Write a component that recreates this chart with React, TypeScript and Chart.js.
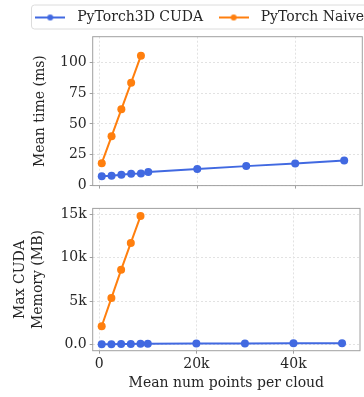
import React, { useEffect, useRef } from "react";
import { Chart, registerables } from "chart.js";

Chart.register(...registerables);

// ---- data ----
const numPoints = [500, 2500, 4500, 6500, 8500, 10000, 20000, 30000, 40000, 50000];
const naivePoints = [500, 2500, 4500, 6500, 8500];
const cudaTimeMs = [7.5, 8.0, 8.8, 9.6, 9.9, 11.0, 13.4, 15.8, 17.9, 20.3];
const naiveTimeMs = [18.2, 40.0, 61.9, 83.5, 105.4];
const cudaMemMB = [8, 20, 35, 50, 65, 75, 90, 105, 120, 135];
const naiveMemMB = [2090, 5340, 8600, 11710, 14800];

const seriesLabels = ["PyTorch3D CUDA", "PyTorch Naive"];
const xTickValues = [0, 20000, 40000];
const xTickLabels = ["0", "20k", "40k"];
const timeTickValues = [0, 25, 50, 75, 100];
const timeTickLabels = ["0", "25", "50", "75", "100"];
const memTickValues = [0, 5000, 10000, 15000];
const memTickLabels = ["0.0", "5k", "10k", "15k"];

const xTitle = "Mean num points per cloud";
const timeTitle = "Mean time (ms)";
const memTitle = ["Max CUDA", "Memory (MB)"];

// ---- style ----
const BLUE = "#4169E1";
const ORANGE = "#FF7F0E";
const TEXT = "#262626";
const FRAME = "#a0a0a0";
const GRID = "#e2e2e2";
const FONT = "'DejaVu Serif', serif";

const X_MIN = -1350;
const X_MAX = 53700;
const TOP_W = 440;
const TOP_H = 197;
const BOT_W = 364;
const BOT_H = 200;
const PLOT_LEFT = 92.7;
const PLOT_RIGHT = 362.3;

const framePlugin = {
  id: "frameBox",
  afterDatasetsDraw(chart: any) {
    const { ctx, chartArea: a } = chart;
    ctx.save();
    ctx.strokeStyle = FRAME;
    ctx.lineWidth = 1;
    ctx.strokeRect(a.left, a.top, a.right - a.left, a.bottom - a.top);
    ctx.restore();
  },
};

const legendFramePlugin = {
  id: "legendFrame",
  afterDraw(chart: any) {
    const lg = chart.legend;
    if (!lg || !lg.legendHitBoxes || !lg.legendHitBoxes.length) return;
    const hb = lg.legendHitBoxes;
    const left = hb[0].left + 1.3;
    const last = hb[hb.length - 1];
    const right = last.left + last.width + 6;
    const top = 5;
    const bottom = 29;
    const { ctx } = chart;
    ctx.save();
    ctx.strokeStyle = "#dcdcdc";
    ctx.lineWidth = 1;
    ctx.beginPath();
    if ((ctx as any).roundRect) (ctx as any).roundRect(left, top, right - left, bottom - top, 3);
    else ctx.rect(left, top, right - left, bottom - top);
    ctx.stroke();
    ctx.restore();
  },
};

function makeIcon(color: string) {
  const c = document.createElement("canvas");
  c.width = 30;
  c.height = 10;
  const g = c.getContext("2d")!;
  g.strokeStyle = color;
  g.lineWidth = 2;
  g.beginPath();
  g.moveTo(0, 5);
  g.lineTo(30, 5);
  g.stroke();
  g.fillStyle = color;
  g.beginPath();
  g.arc(15, 5, 3, 0, Math.PI * 2);
  g.fill();
  return c;
}

function lineDataset(label: string, xs: number[], ys: number[], color: string) {
  return {
    label,
    data: xs.map((x, i) => ({ x, y: ys[i] })),
    borderColor: color,
    backgroundColor: color,
    pointBackgroundColor: color,
    pointBorderColor: color,
    pointBorderWidth: 0,
    pointRadius: 4,
    borderWidth: 2,
    tension: 0,
  };
}

function xAxis(showLabels: boolean, height: number) {
  return {
    type: "linear",
    position: "bottom",
    min: X_MIN,
    max: X_MAX,
    afterBuildTicks: (s: any) => {
      s.ticks = xTickValues.map((v) => ({ value: v }));
    },
    afterFit: (s: any) => {
      s.height = height;
    },
    grid: {
      color: GRID,
      lineWidth: 1,
      drawTicks: true,
      tickLength: 3,
      tickColor: FRAME,
      tickWidth: 1,
    },
    border: { display: false, dash: [2, 2] },
    ticks: {
      display: showLabels,
      padding: 2,
      color: TEXT,
      font: { family: FONT, size: 14 },
      maxRotation: 0,
      callback: (_v: any, i: number) => xTickLabels[i],
    },
    title: showLabels
      ? {
          display: true,
          text: xTitle,
          color: TEXT,
          font: { family: FONT, size: 14 },
          padding: { top: 0, bottom: 5 },
        }
      : { display: false },
  };
}

function yAxis(min: number, max: number, tv: number[], tl: string[], title: any, width: number, titlePad: number) {
  return {
    type: "linear",
    position: "left",
    min,
    max,
    afterBuildTicks: (s: any) => {
      s.ticks = tv.map((v) => ({ value: v }));
    },
    afterFit: (s: any) => {
      s.width = width;
    },
    grid: {
      color: GRID,
      lineWidth: 1,
      drawTicks: true,
      tickLength: 3,
      tickColor: FRAME,
      tickWidth: 1,
    },
    border: { display: false, dash: [2, 2] },
    ticks: {
      padding: 3,
      color: TEXT,
      font: { family: FONT, size: 14 },
      callback: (_v: any, i: number) => tl[i],
    },
    title: {
      display: true,
      text: title,
      color: TEXT,
      font: { family: FONT, size: 14, lineHeight: 1.3 },
      padding: { top: titlePad, bottom: 0 },
    },
  };
}

export default function App() {
  const topRef = useRef<HTMLCanvasElement>(null);
  const botRef = useRef<HTMLCanvasElement>(null);

  useEffect(() => {
    const icons = [makeIcon(BLUE), makeIcon(ORANGE)];
    const legendLeftPad = 19.7;

    const top = new Chart(topRef.current!, {
      type: "line",
      data: {
        datasets: [
          lineDataset(seriesLabels[0], numPoints, cudaTimeMs, BLUE),
          lineDataset(seriesLabels[1], naivePoints, naiveTimeMs, ORANGE),
        ],
      },
      options: {
        animation: false,
        responsive: false,
        layout: { padding: { left: legendLeftPad, right: 0, top: 0, bottom: 0 } },
        scales: {
          x: xAxis(false, TOP_H - 187.7),
          xTopSpacer: {
            type: "linear",
            position: "top",
            display: true,
            grid: { display: false },
            border: { display: false },
            ticks: { display: false },
            afterFit: (s: any) => {
              s.height = 2.2;
            },
          },
          y: yAxis(0, 120.8, timeTickValues, timeTickLabels, timeTitle, PLOT_LEFT - legendLeftPad, 11.9),
          yRightSpacer: {
            type: "linear",
            position: "right",
            display: true,
            grid: { display: false },
            border: { display: false },
            ticks: { display: false },
            afterFit: (s: any) => {
              s.width = TOP_W - PLOT_RIGHT;
            },
          },
        } as any,
        plugins: {
          legend: {
            display: true,
            position: "top",
            align: "start",
            labels: {
              usePointStyle: true,
              pointStyleWidth: 40,
              padding: 10.5,
              color: TEXT,
              font: { family: FONT, size: 14 },
              generateLabels: (chart: any) => {
                const items = (Chart.defaults.plugins.legend.labels as any).generateLabels(chart);
                items.forEach((it: any, i: number) => {
                  it.pointStyle = icons[i];
                  it.fontColor = TEXT;
                });
                return items;
              },
            },
          },
          tooltip: { enabled: false },
        },
      } as any,
      plugins: [framePlugin, legendFramePlugin],
    });

    const bot = new Chart(botRef.current!, {
      type: "line",
      data: {
        datasets: [
          lineDataset(seriesLabels[0], numPoints, cudaMemMB, BLUE),
          lineDataset(seriesLabels[1], naivePoints, naiveMemMB, ORANGE),
        ],
      },
      options: {
        animation: false,
        responsive: false,
        layout: { padding: { left: 0, right: BOT_W - PLOT_RIGHT, top: 3, bottom: 0 } },
        scales: {
          x: xAxis(true, 397 - 350.7),
          y: yAxis(-730, 15690, memTickValues, memTickLabels, memTitle, PLOT_LEFT, 11.4),
        } as any,
        plugins: {
          legend: { display: false },
          tooltip: { enabled: false },
        },
      } as any,
      plugins: [framePlugin],
    });

    return () => {
      top.destroy();
      bot.destroy();
    };
  }, []);

  return (
    <div
      style={{
        position: "fixed",
        left: 0,
        top: 0,
        width: 364,
        height: 397,
        overflow: "hidden",
        background: "#ffffff",
      }}
    >
      <canvas
        ref={topRef}
        width={TOP_W}
        height={TOP_H}
        style={{ position: "absolute", left: 0, top: 0, width: TOP_W, height: TOP_H }}
      />
      <canvas
        ref={botRef}
        width={BOT_W}
        height={BOT_H}
        style={{ position: "absolute", left: 0, top: 197, width: BOT_W, height: BOT_H }}
      />
    </div>
  );
}
